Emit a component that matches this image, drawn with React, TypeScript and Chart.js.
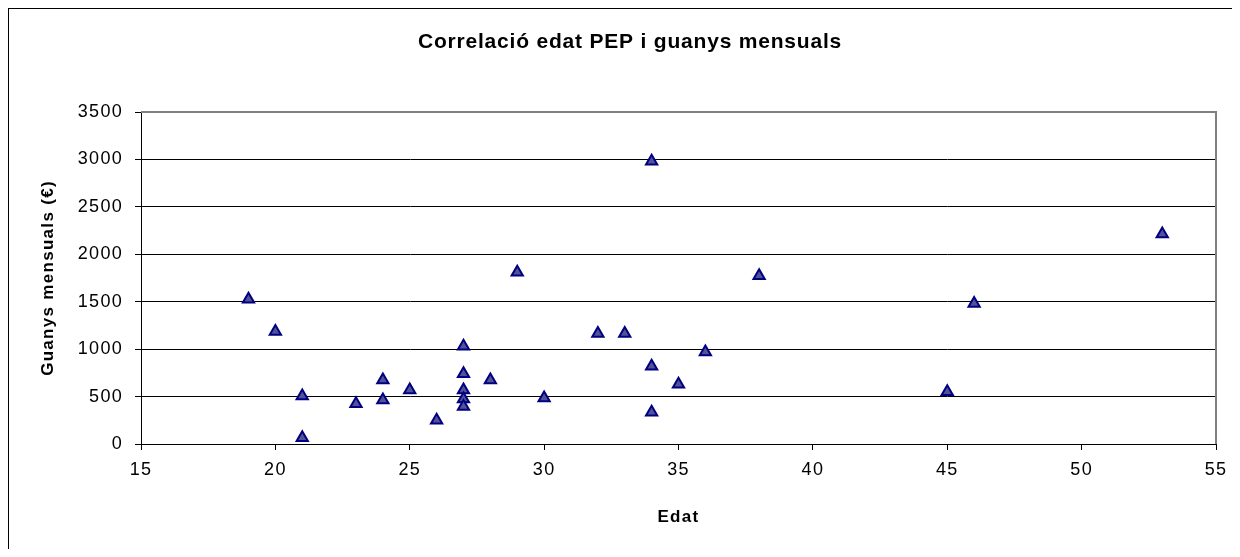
import React, { useEffect, useRef } from "react";
import { Chart, registerables } from "chart.js";

Chart.register(...registerables);

const TITLE = "Correlació edat PEP i guanys mensuals";
const X_TITLE = "Edat";
const Y_TITLE = "Guanys mensuals (€)";

const AGES = [19, 20, 21, 21, 23, 24, 24, 25, 26, 27, 27, 27, 27, 27, 28, 29, 30, 32, 33, 34, 34, 34, 35, 36, 38, 45, 46, 53];
const EARNINGS = [1525, 1185, 505, 65, 425, 675, 465, 570, 250, 1030, 740, 570, 475, 395, 675, 1810, 485, 1165, 1165, 2980, 820, 335, 630, 970, 1775, 550, 1480, 2215];

const X_TICKS = ["15", "20", "25", "30", "35", "40", "45", "50", "55"];
const Y_TICKS = ["0", "500", "1000", "1500", "2000", "2500", "3000", "3500"];

const FONT = '"Liberation Sans", Arial, sans-serif';

export default function App() {
  const ref = useRef<HTMLCanvasElement | null>(null);

  useEffect(() => {
    if (!ref.current) return;
    const xMin = Number(X_TICKS[0]);
    const xMax = Number(X_TICKS[X_TICKS.length - 1]);
    const xStep = Number(X_TICKS[1]) - xMin;
    const yMin = Number(Y_TICKS[0]);
    const yMax = Number(Y_TICKS[Y_TICKS.length - 1]);
    const yStep = Number(Y_TICKS[1]) - yMin;

    const excelLook = {
      id: "excelLook",
      beforeDraw(chart: any) {
        chart.ctx.letterSpacing = "1.3px";
      },
      beforeDatasetsDraw(chart: any) {
        const { ctx, chartArea } = chart;
        ctx.save();
        ctx.strokeStyle = "#808080";
        ctx.lineWidth = 2;
        ctx.beginPath();
        ctx.moveTo(chartArea.left, chartArea.top);
        ctx.lineTo(chartArea.right, chartArea.top);
        ctx.lineTo(chartArea.right, chartArea.bottom);
        ctx.stroke();
        ctx.restore();
      },
      afterDraw(chart: any) {
        const { ctx } = chart;
        ctx.save();
        ctx.letterSpacing = "0.8px";
        ctx.font = `bold 21px ${FONT}`;
        ctx.fillStyle = "#000";
        ctx.textAlign = "center";
        ctx.textBaseline = "alphabetic";
        ctx.fillText(TITLE, 621, 39);
        ctx.restore();
        ctx.letterSpacing = "0px";
      },
    };

    const chart = new Chart(ref.current, {
      type: "scatter",
      data: {
        datasets: [
          {
            label: "Guanys",
            data: AGES.map((a, i) => ({ x: a, y: EARNINGS[i] })),
            pointStyle: "triangle",
            pointRadius: 6.5,
            pointHoverRadius: 6.5,
            backgroundColor: "#525296",
            borderColor: "#000080",
            borderWidth: 2,
          },
        ],
      },
      options: {
        responsive: false,
        animation: false,
        devicePixelRatio: 1,
        layout: { padding: { top: 103, right: 16, left: 0, bottom: 0 } },
        plugins: {
          legend: { display: false },
          title: { display: false },
          tooltip: { enabled: false },
        },
        scales: {
          x: {
            type: "linear",
            min: xMin,
            max: xMax,
            afterFit(scale: any) {
              scale.height = 105;
              scale.paddingLeft = 0;
              scale.paddingRight = 0;
            },
            ticks: {
              stepSize: xStep,
              autoSkip: false,
              maxRotation: 0,
              padding: 9,
              color: "#000",
              font: { family: FONT, size: 18 },
              callback: (v: any) => String(v),
            },
            grid: {
              drawOnChartArea: false,
              drawTicks: true,
              tickLength: 6,
              tickColor: "#000",
              tickWidth: 1,
            },
            border: { display: true, color: "#000", width: 1 },
            title: {
              display: true,
              text: X_TITLE,
              color: "#000",
              font: { family: FONT, size: 17, weight: "bold" },
              padding: { top: 0, bottom: 21 },
            },
          },
          y: {
            type: "linear",
            min: yMin,
            max: yMax,
            afterFit(scale: any) {
              scale.width = 132;
            },
            ticks: {
              stepSize: yStep,
              autoSkip: false,
              padding: 12,
              color: "#000",
              font: { family: FONT, size: 18 },
              callback: (v: any) => String(v),
            },
            grid: {
              color: "#000",
              lineWidth: 1,
              drawTicks: true,
              tickLength: 6,
              tickColor: "#000",
            },
            border: { display: true, color: "#000", width: 1 },
            title: {
              display: true,
              text: Y_TITLE,
              color: "#000",
              font: { family: FONT, size: 17, weight: "bold" },
              padding: { top: 29, bottom: 0 },
            },
          },
        },
      },
      plugins: [excelLook],
    } as any);

    return () => chart.destroy();
  }, []);

  return (
    <div
      style={{
        width: 1224,
        height: 541,
        boxSizing: "border-box",
        borderLeft: "1px solid #000",
        borderTop: "1px solid #000",
        background: "#fff",
      }}
    >
      <canvas ref={ref} width={1223} height={540} style={{ display: "block", width: 1223, height: 540 }} />
    </div>
  );
}
